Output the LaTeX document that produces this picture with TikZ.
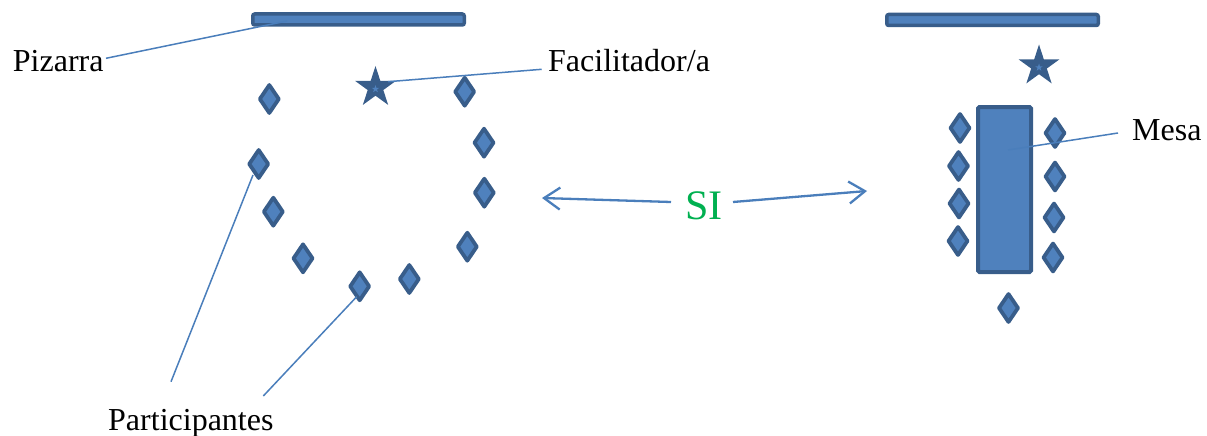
\documentclass[tikz,border=0pt]{standalone}
\usepackage{fontspec}
\setmainfont{Liberation Serif}
\usetikzlibrary{shapes.geometric,arrows.meta}
\definecolor{shapefill}{HTML}{4F81BD}
\definecolor{shapeline}{HTML}{385D8A}
\definecolor{linkblue}{HTML}{4A7EBB}
\definecolor{sigreen}{HTML}{00B050}
\tikzset{
  seat/.style={diamond, draw=shapeline, fill=shapefill, line width=3.8pt, line join=round,
    minimum width=20.5pt, minimum height=29.5pt, inner sep=0pt},
  board/.style={rectangle, draw=shapeline, fill=shapefill, line width=3.5pt, rounded corners=2pt,
    minimum width=211.5pt, minimum height=11pt, inner sep=0pt},
  tablebox/.style={rectangle, draw=shapeline, fill=shapefill, line width=4pt, rounded corners=1.5pt,
    minimum width=53pt, minimum height=165pt, inner sep=0pt},
  bigstar/.style={star, star points=5, star point ratio=2.618, fill=shapeline, draw=none,
    minimum size=43pt, inner sep=0pt},
  smallstar/.style={star, star points=5, star point ratio=2.618, fill=shapefill, draw=none,
    minimum size=8pt, inner sep=0pt},
  label/.style={anchor=base west, inner sep=0pt, font=\fontsize{32}{36}\selectfont, text=black},
  callout/.style={draw=linkblue, line width=1.5pt},
  twoway/.style={draw=linkblue, line width=2.3pt, -{Straight Barb[length=16pt,width=22pt]}}
}
\begin{document}
\begin{tikzpicture}[x=1pt,y=-1pt]
\useasboundingbox (0,0) rectangle (1207,436);
% left arrangement
\node[board] (board1) at (358.5,19.5) {};
\node[bigstar] (star1) at (375.5,87.5) {};
\node[smallstar] (star1c) at (375.5,89) {};
\node[seat] (p1) at (269.3,99) {};
\node[seat] (p2) at (258.7,164) {};
\node[seat] (p3) at (273.3,211.7) {};
\node[seat] (p4) at (303,258.3) {};
\node[seat] (p5) at (359.7,286.3) {};
\node[seat] (p6) at (409.3,279) {};
\node[seat] (p7) at (467.3,246.7) {};
\node[seat] (p8) at (484.3,192.7) {};
\node[seat] (p9) at (484,142.7) {};
\node[seat] (p10) at (464.7,91.7) {};
% right arrangement
\node[board] (board2) at (992.5,20) {};
\node[bigstar] (star2) at (1039,66) {};
\node[smallstar] (star2c) at (1039,67.5) {};
\node[tablebox] (mesa) at (1004.5,189.5) {};
\node[seat] (q1) at (960,128) {};
\node[seat] (q2) at (958.5,166) {};
\node[seat] (q3) at (959,203.5) {};
\node[seat] (q4) at (958,241) {};
\node[seat] (q5) at (1055,133) {};
\node[seat] (q6) at (1055,176.5) {};
\node[seat] (q7) at (1054,217.5) {};
\node[seat] (q8) at (1053,257.5) {};
\node[seat] (q9) at (1008.5,308) {};
% labels
\node[label] (pizarra) at (12.7,71.7) {Pizarra};
\node[label] (facil) at (548,71.7) {Facilitador/a};
\node[label] (mesalbl) at (1132,140) {Mesa};
\node[label] (partic) at (108,430) {Participantes};
\node[anchor=base west, inner sep=0pt, font=\fontsize{42}{46}\selectfont, text=sigreen] (si) at (685,219.3) {SI};
% connector ends
\coordinate (pzA) at (106,58.3);
\coordinate (pzB) at (287,21);
\coordinate (fcA) at (388,81.7);
\coordinate (fcB) at (541.7,69.3);
\coordinate (msA) at (1008,150);
\coordinate (msB) at (1118,133);
\coordinate (pa1) at (253,175);
\coordinate (pb1) at (171,381.7);
\coordinate (pa2) at (356.7,296.7);
\coordinate (pb2) at (263.3,396);
\coordinate (siL) at (671,202);
\coordinate (siR) at (733,202);
\coordinate (tipL) at (542,198);
\coordinate (tipR) at (867,191);
% connectors
\draw[callout] (pzA) -- (pzB);
\draw[callout] (fcA) -- (fcB);
\draw[callout] (msA) -- (msB);
\draw[callout] (pa1) -- (pb1);
\draw[callout] (pa2) -- (pb2);
\draw[twoway] (siL) -- (tipL);
\draw[twoway] (siR) -- (tipR);
\end{tikzpicture}
\end{document}
